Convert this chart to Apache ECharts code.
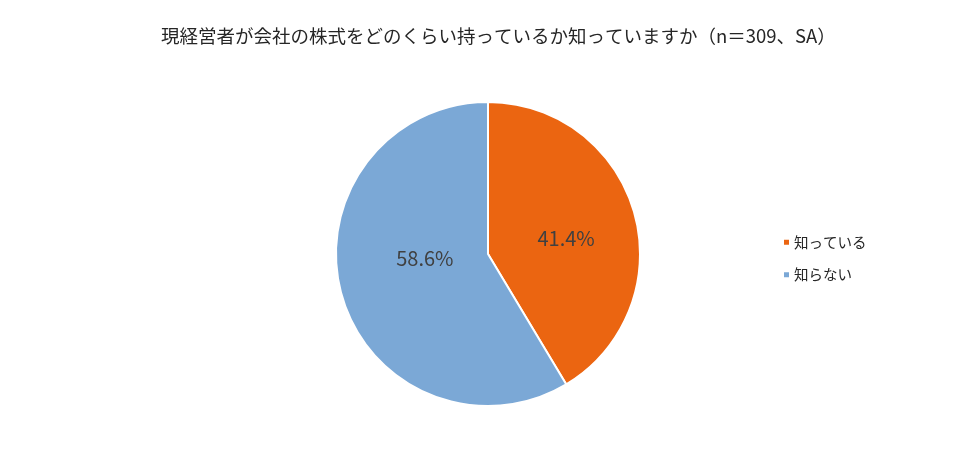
<!DOCTYPE html>
<html><head><meta charset="utf-8">
<script src="https://cdn.jsdelivr.net/npm/echarts@6/dist/echarts.min.js"></script>
<style>html,body{margin:0;padding:0;background:#fff}#c{width:976px;height:454px}</style>
</head><body><div id="c"></div>
<script>
const titleText = '現経営者が会社の株式をどのくらい持っているか知っていますか（n＝309、SA）';
const categories = ['知っている', '知らない'];
const values = [41.4, 58.6];
const colors = ['#EB6511', '#7BA8D6'];

const chart = echarts.init(document.getElementById('c'));
const font = '"Noto Sans CJK JP", "Noto Sans", sans-serif';
chart.setOption({
  animation: false,
  title: {
    text: titleText, left: 156, top: 22,
    textStyle: {fontFamily: font, fontSize: 18.5, fontWeight: 'normal', color: '#262626'}
  },
  legend: {
    orient: 'vertical', left: 777, top: 230, itemGap: 18,
    itemWidth: 7, itemHeight: 7, icon: 'rect',
    data: categories,
    textStyle: {fontFamily: font, fontSize: 14.5, color: '#262626', padding: [0,0,0,-1]}
  },
  series: [{
    type: 'pie', center: [488, 254], radius: [0, 152],
    startAngle: 90, clockwise: true,
    itemStyle: {borderColor: '#fff', borderWidth: 2},
    label: {
      position: 'inside', fontFamily: font, fontSize: 20, color: '#404040',
      formatter: p => p.value.toFixed(1) + '%'
    },
    labelLine: {show: false},
    data: categories.map((c, i) => ({
      name: c, value: values[i], itemStyle: {color: colors[i]},
      label: i === 1 ? {offset: [13, -17]} : {offset: [2, 5]}
    }))
  }]
});
</script></body></html>
